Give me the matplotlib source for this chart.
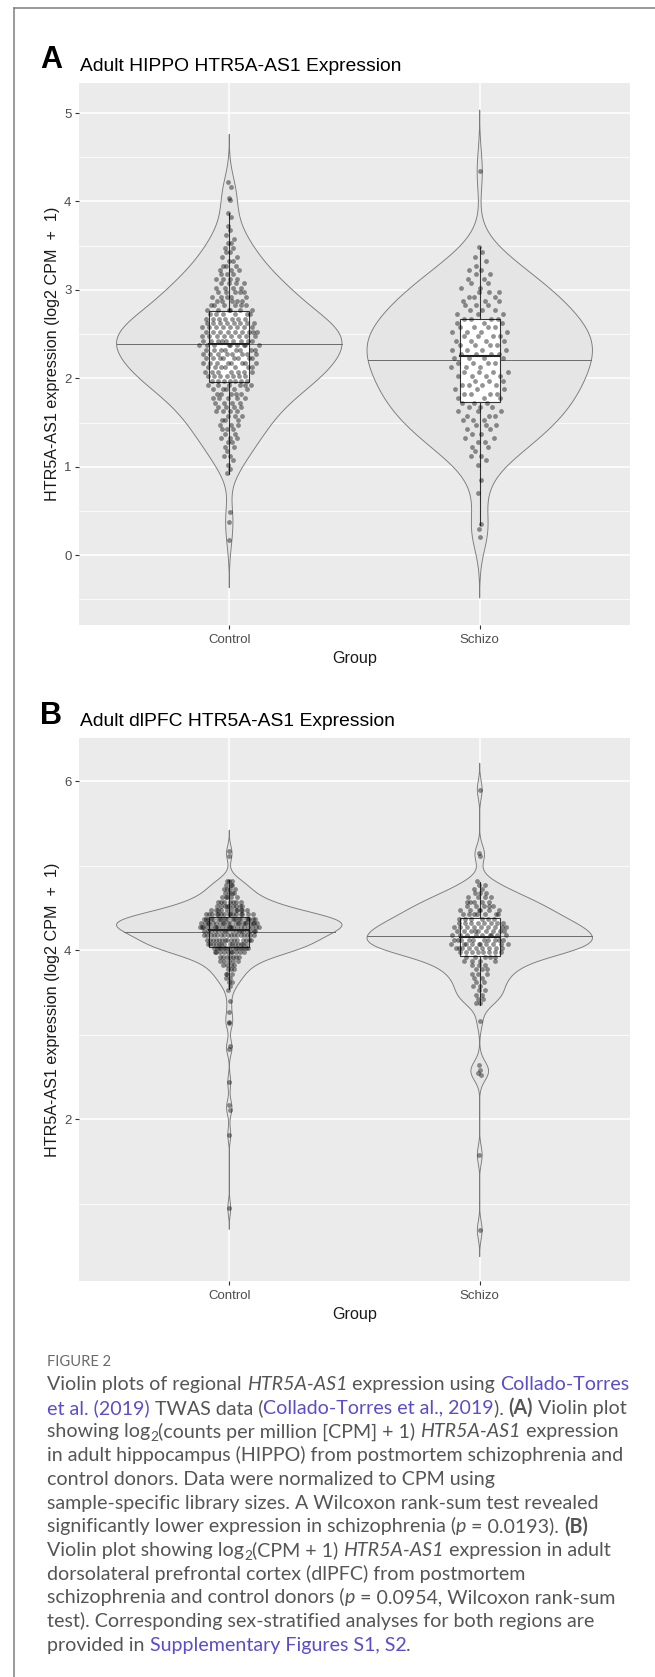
import numpy as np
import matplotlib.pyplot as plt
from matplotlib.lines import Line2D
from matplotlib.patches import Polygon, Rectangle

W, H = 655, 1677
groups = ['Control', 'Schizo']

# --- panel A: adult HIPPO, points counted per 0.05 bin (lower edge of first bin) + single points
hippo_ctrl_start = 0.90
hippo_ctrl_counts = [1, 1, 1, 1, 2, 1, 2, 2, 3, 2, 3, 3, 3, 3, 4, 4, 4, 5, 5, 5,
                     6, 7, 7, 7, 7, 8, 8, 8, 8, 9, 9, 8, 9, 8, 8, 7, 6, 6, 6, 5,
                     5, 5, 4, 4, 4, 3, 3, 3, 2, 2, 2, 2, 2, 1, 1, 1, 1, 0, 1, 1]
hippo_ctrl_extra = [0.17, 0.38, 0.49, 4.02, 4.04, 4.16, 4.22]
hippo_scz_start = 1.00
hippo_scz_counts = [1, 1, 2, 1, 2, 2, 2, 2, 2, 3, 3, 3, 3, 3, 3, 3, 4, 3, 4, 3,
                    4, 4, 3, 4, 4, 4, 4, 4, 4, 4, 4, 4, 3, 4, 3, 3, 3, 3, 3, 3,
                    2, 2, 2, 2, 2, 1, 1, 1, 1]
hippo_scz_extra = [0.21, 0.30, 0.35, 0.70, 0.85, 3.49, 4.34]
hippo_q1 = [1.96, 1.73]
hippo_med = [2.39, 2.25]
hippo_q3 = [2.76, 2.67]
hippo_wlo = [0.92, 0.34]
hippo_whi = [3.87, 3.49]
hippo_vmed = [2.39, 2.21]

# --- panel B: adult dlPFC
dlpfc_ctrl_start = 3.50
dlpfc_ctrl_counts = [1, 1, 2, 2, 3, 3, 4, 5, 7, 10, 14, 14, 15, 16, 17, 21, 21, 20,
                     15, 11, 9, 7, 5, 4, 4, 3, 3]
dlpfc_ctrl_extra = [0.95, 1.82, 2.11, 2.17, 2.44, 2.83, 2.87, 3.14, 3.15, 3.27,
                    3.40, 5.12, 5.17]
dlpfc_scz_start = 3.35
dlpfc_scz_counts = [2, 2, 2, 2, 2, 2, 2, 3, 3, 3, 4, 5, 8, 9, 10, 10, 9, 9, 9, 8,
                    6, 7, 6, 5, 5, 4, 3, 2, 2, 1]
dlpfc_scz_extra = [0.69, 1.58, 2.53, 2.55, 2.58, 2.64, 3.16, 5.12, 5.15, 5.90]
dlpfc_q1 = [4.04, 3.93]
dlpfc_med = [4.24, 4.16]
dlpfc_q3 = [4.39, 4.38]
dlpfc_wlo = [3.54, 3.35]
dlpfc_whi = [4.83, 4.81]
dlpfc_vmed = [4.22, 4.17]

plt.rcParams['font.family'] = ['Liberation Sans', 'DejaVu Sans']


def expand(start, counts, extra):
    vals = []
    for i, c in enumerate(counts):
        vals += [start + 0.05 * i + 0.025] * c
    return np.sort(np.array(vals + list(extra)))


def nrd0(v):
    sd = np.std(v, ddof=1)
    iqr = np.percentile(v, 75) - np.percentile(v, 25)
    return 0.9 * min(sd, iqr / 1.34) * len(v) ** -0.2


def vdc(n):
    v, den = 0.0, 1.0
    while n:
        den *= 2
        n, r = divmod(n, 2)
        v += r / den
    return v


def draw_group(ax, x0, v, q1, med, q3, wlo, whi, vmed):
    bw = nrd0(v)
    g = np.linspace(v.min() - 3 * bw, v.max() + 3 * bw, 512)
    d = np.exp(-0.5 * ((g[:, None] - v[None, :]) / bw) ** 2).sum(1)
    d = d / d.max() * 0.45
    xs = np.concatenate([x0 - d, (x0 + d)[::-1]])
    ys = np.concatenate([g, g[::-1]])
    ax.add_patch(Polygon(np.c_[xs, ys], closed=True, fc='#E5E5E5', ec='#7A7A7A',
                         lw=0.65, zorder=2))
    wm = np.interp(vmed, g, d)
    ax.plot([x0 - wm, x0 + wm], [vmed, vmed], color='#6A6A6A', lw=0.7, zorder=2.1)
    # box
    hw = 0.08
    ax.add_patch(Rectangle((x0 - hw, q1), 2 * hw, q3 - q1, fc='white', ec='#333333',
                           lw=0.8, zorder=3))
    ax.plot([x0, x0], [q3, whi], color='#333333', lw=0.8, zorder=3)
    ax.plot([x0, x0], [wlo, q1], color='#333333', lw=0.8, zorder=3)
    # quasirandom points
    dens = np.interp(v, g, d) / 0.45
    off = np.array([(vdc(i + 1) - 0.5) * 2 for i in range(len(v))]) * 0.12 * dens
    ax.scatter(x0 + off, v, s=12, c='black', alpha=0.42, lw=0, zorder=4)
    ax.plot([x0 - hw, x0 + hw], [med, med], color='#222222', lw=1.5, zorder=5)


fig = plt.figure(figsize=(W / 100, H / 100), dpi=100)


def panel(top, bottom, ylim, major, minor, data, stats, tag, title):
    ax = fig.add_axes([79 / W, 1 - bottom / H, 551 / W, (bottom - top) / H])
    ax.set_facecolor('#EBEBEB')
    for s in ax.spines.values():
        s.set_visible(False)
    ax.set_xlim(0.4, 2.6)
    ax.set_ylim(*ylim)
    ax.set_xticks([1, 2])
    ax.set_xticklabels(groups)
    ax.set_yticks(major)
    ax.set_yticks(minor, minor=True)
    ax.grid(which='major', color='white', lw=1.1)
    ax.grid(which='minor', axis='y', color='white', lw=0.55)
    ax.set_axisbelow(True)
    ax.tick_params(which='major', length=3, width=0.8, color='#333333',
                   labelcolor='#4D4D4D', labelsize=9.5)
    ax.tick_params(axis='x', pad=3.2)
    ax.tick_params(axis='y', pad=2.4)
    ax.tick_params(which='minor', length=0)
    for i, v in enumerate(data):
        draw_group(ax, i + 1, v, *[s[i] for s in stats])
    fig.text(40 / W, 1 - (top - 14.5) / H, tag, fontsize=22, fontweight='bold',
             va='baseline', ha='left')
    fig.text(80 / W, 1 - (top - 12.3) / H, title, fontsize=13.9, va='baseline',
             ha='left')
    fig.text(52.5 / W, 1 - (top + bottom) / 2 / H, 'HTR5A-AS1 expression (log2 CPM  +  1)',
             rotation=90, ha='center', va='center', fontsize=11.6, color='#1A1A1A')
    fig.text(354.5 / W, 1 - (bottom + 34) / H, 'Group', ha='center', va='center',
             fontsize=11.6, color='#1A1A1A')
    return ax


hippo = [expand(hippo_ctrl_start, hippo_ctrl_counts, hippo_ctrl_extra),
         expand(hippo_scz_start, hippo_scz_counts, hippo_scz_extra)]
dlpfc = [expand(dlpfc_ctrl_start, dlpfc_ctrl_counts, dlpfc_ctrl_extra),
         expand(dlpfc_scz_start, dlpfc_scz_counts, dlpfc_scz_extra)]

panel(83, 625, (-0.79, 5.34), [0, 1, 2, 3, 4, 5], [-0.5, 0.5, 1.5, 2.5, 3.5, 4.5],
      hippo, [hippo_q1, hippo_med, hippo_q3, hippo_wlo, hippo_whi, hippo_vmed],
      'A', 'Adult HIPPO HTR5A-AS1 Expression')
panel(738, 1281, (0.09, 6.51), [2, 4, 6], [1, 3, 5],
      dlpfc, [dlpfc_q1, dlpfc_med, dlpfc_q3, dlpfc_wlo, dlpfc_whi, dlpfc_vmed],
      'B', 'Adult dlPFC HTR5A-AS1 Expression')

# frame lines of the figure page
fig.add_artist(Line2D([14 / W, 14 / W], [1 - 7.5 / H, 0], color='#7F7F7F', lw=1.1))
fig.add_artist(Line2D([14 / W, 1], [1 - 7.5 / H, 1 - 7.5 / H], color='#7F7F7F', lw=1.1))

# --- caption
caption = [
    [("Violin plots of regional ", 'n'), ("HTR5A-AS1", 'i'), (" expression using ", 'n'),
     ("Collado-Torres", 'l')],
    [("et al. (2019)", 'l'), (" TWAS data (", 'n'), ("Collado-Torres et al., 2019", 'l'),
     ("). ", 'n'), ("(A)", 'b'), (" Violin plot", 'n')],
    [("showing log", 'n'), ("2", 's'), ("(counts per million [CPM] + 1) ", 'n'),
     ("HTR5A-AS1", 'i'), (" expression", 'n')],
    [("in adult hippocampus (HIPPO) from postmortem schizophrenia and", 'n')],
    [("control donors. Data were normalized to CPM using", 'n')],
    [("sample-specific library sizes. A Wilcoxon rank-sum test revealed", 'n')],
    [("significantly lower expression in schizophrenia (", 'n'), ("p", 'i'),
     (" = 0.0193). ", 'n'), ("(B)", 'b')],
    [("Violin plot showing log", 'n'), ("2", 's'), ("(CPM + 1) ", 'n'), ("HTR5A-AS1", 'i'),
     (" expression in adult", 'n')],
    [("dorsolateral prefrontal cortex (dlPFC) from postmortem", 'n')],
    [("schizophrenia and control donors (", 'n'), ("p", 'i'),
     (" = 0.0954, Wilcoxon rank-sum", 'n')],
    [("test). Corresponding sex-stratified analyses for both regions are", 'n')],
    [("provided in ", 'n'), ("Supplementary Figures S1, S2", 'l'), (".", 'n')],
]

cap_font = ['Lato', 'DejaVu Sans']
txt_col = '#555555'
link_col = '#5A4DCB'
r = fig.canvas.get_renderer()


def style(kind, size):
    kw = dict(family=cap_font, fontsize=size, color=txt_col)
    if kind == 'i':
        kw['style'] = 'italic'
    elif kind == 'b':
        kw['weight'] = 'bold'
    elif kind == 'l':
        kw['color'] = link_col
    elif kind == 's':
        kw['fontsize'] = size * 0.7
    return kw


def width(s, kw):
    t = fig.text(0, 0, '|' + s + '|', **kw)
    w1 = t.get_window_extent(r).width
    t.remove()
    t = fig.text(0, 0, '||', **kw)
    w0 = t.get_window_extent(r).width
    t.remove()
    return w1 - w0


# fit caption size to the measured width of one line
ref_line = caption[9]
w12 = sum(width(s, style(k, 12)) for s, k in ref_line)
cap_size = 12 * 565 / w12

fig.text(47 / W, 1 - 1366 / H, 'FIGURE 2', family=cap_font, fontsize=10.6,
         color='#6A6A6A', va='baseline')
for li, line in enumerate(caption):
    x = 47.0
    yb = 1390 + 23.7 * li
    for s, k in line:
        kw = style(k, cap_size)
        dy = 4 if k == 's' else 0
        fig.text(x / W, 1 - (yb + dy) / H, s, va='baseline', ha='left', **kw)
        x += width(s, kw)

fig.savefig('out.png', dpi=100)
